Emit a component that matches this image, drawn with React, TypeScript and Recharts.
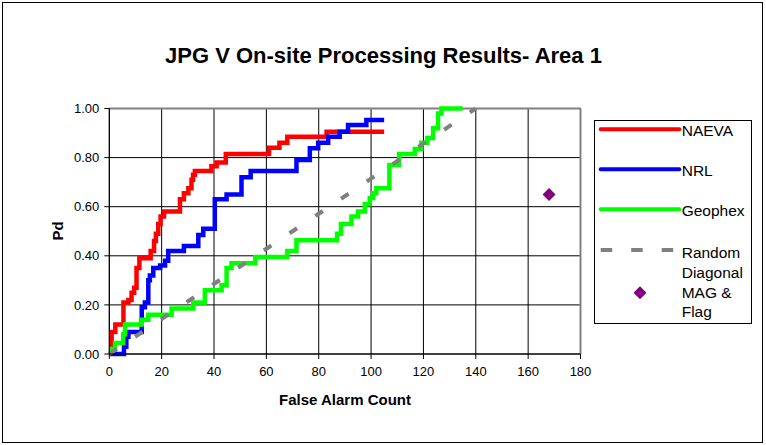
import React from "react";
import {
  ComposedChart,
  Line,
  Scatter,
  XAxis,
  YAxis,
  CartesianGrid,
  ReferenceLine,
} from "recharts";

// [false alarm count, Pd] — step points, the curve rises at each x
const naeva: [number, number][] = [
  [0, 0.03], [0.9, 0.09], [2.3, 0.12], [5.4, 0.21], [7.3, 0.22], [8.5, 0.25],
  [9.5, 0.27], [10.4, 0.35], [11.5, 0.39], [15.8, 0.42], [17.1, 0.46],
  [17.8, 0.49], [18.7, 0.53], [19.6, 0.56], [20.9, 0.58], [27, 0.63],
  [28.5, 0.655], [30.2, 0.675], [31.4, 0.71], [32, 0.73], [32.7, 0.745],
  [39, 0.765], [41, 0.78], [44.5, 0.815], [61, 0.84], [65, 0.86], [68, 0.885],
  [83, 0.905], [105, 0.905],
];

const nrl: [number, number][] = [
  [0, 0], [5.6, 0.03], [6.5, 0.07], [7.3, 0.09], [12.4, 0.19], [13.6, 0.21],
  [14.9, 0.3], [15.5, 0.32], [16.8, 0.35], [19.4, 0.36], [21.3, 0.38],
  [22.5, 0.42], [28.5, 0.44], [34, 0.485], [35.9, 0.51], [40.3, 0.63],
  [44.8, 0.65], [50.5, 0.72], [54, 0.745], [71.5, 0.79], [76.6, 0.838],
  [79.8, 0.861], [83.6, 0.885], [88, 0.905], [91.2, 0.933], [98.2, 0.953],
  [105, 0.953],
];

const geophex: [number, number][] = [
  [0, 0.02], [2.2, 0.045], [5.3, 0.08], [6, 0.12], [12.4, 0.14], [14.9, 0.16],
  [23.8, 0.185], [32.1, 0.21], [36.5, 0.26], [42.9, 0.28], [44.8, 0.35],
  [46.7, 0.37], [55.8, 0.395], [68, 0.42], [71.5, 0.463], [87, 0.49],
  [88.5, 0.53], [92.5, 0.56], [95, 0.58], [97.6, 0.61], [99.5, 0.635],
  [100.8, 0.655], [102, 0.675], [107, 0.77], [110.7, 0.815], [116.7, 0.835],
  [119.2, 0.86], [121.5, 0.88], [123.7, 0.92], [125.6, 0.98], [126.9, 1.0],
  [135, 1.0],
];

const randomDiagonal: [number, number][] = [[0, 0], [140, 1]];
const magFlag: [number, number][] = [[168, 0.65]];

const xTicks = [0, 20, 40, 60, 80, 100, 120, 140, 160, 180];
const yTicks = [0, 0.2, 0.4, 0.6, 0.8, 1];

const toPts = (a: [number, number][]) => a.map(([x, y]) => ({ x, y }));

const FONT = "'Liberation Sans', Arial, sans-serif";

const Diamond = (p: any) => {
  const { cx, cy } = p;
  const r = 6.5;
  return (
    <polygon
      points={`${cx},${cy - r} ${cx + r},${cy} ${cx},${cy + r} ${cx - r},${cy}`}
      fill="#800080"
    />
  );
};

export default function App() {
  const tick = { fill: "#000", fontSize: 13, fontFamily: FONT };
  return (
    <div
      style={{
        position: "absolute",
        left: 0,
        top: 0,
        width: 766,
        height: 445,
        background: "#fff",
        fontFamily: FONT,
      }}
    >
      <div
        style={{
          position: "absolute",
          left: 2,
          top: 2,
          width: 759,
          height: 439,
          border: "1px solid #000",
        }}
      />
      <ComposedChart
        width={766}
        height={445}
        margin={{ top: 108.5, right: 185.5, bottom: 61, left: 49.3 }}
      >
        <CartesianGrid stroke="#000" strokeWidth={1} />
        <XAxis
          dataKey="x"
          type="number"
          domain={[0, 180]}
          ticks={xTicks}
          interval={0}
          height={30}
          tickSize={5}
          tickMargin={8}
          tick={tick}
          axisLine={{ stroke: "#000" }}
          tickLine={{ stroke: "#000" }}
        />
        <YAxis
          dataKey="y"
          type="number"
          domain={[0, 1]}
          ticks={yTicks}
          interval={0}
          width={60}
          tickSize={5}
          tickMargin={5}
          tick={tick}
          tickFormatter={(v: number) => v.toFixed(2)}
          axisLine={{ stroke: "#000" }}
          tickLine={{ stroke: "#000" }}
        />
        <ReferenceLine y={1} stroke="#808080" strokeWidth={2} />
        <ReferenceLine x={180} stroke="#808080" strokeWidth={2} />
        <Line
          data={toPts(naeva)}
          dataKey="y"
          type="stepAfter"
          stroke="#ff0000"
          strokeWidth={4.5}
          dot={false}
          activeDot={false}
          isAnimationActive={false}
        />
        <Line
          data={toPts(nrl)}
          dataKey="y"
          type="stepAfter"
          stroke="#0000ff"
          strokeWidth={4.5}
          dot={false}
          activeDot={false}
          isAnimationActive={false}
        />
        <Line
          data={toPts(geophex)}
          dataKey="y"
          type="stepAfter"
          stroke="#00ff00"
          strokeWidth={4.5}
          dot={false}
          activeDot={false}
          isAnimationActive={false}
        />
        <Line
          data={toPts(randomDiagonal)}
          dataKey="y"
          type="linear"
          stroke="#808080"
          strokeWidth={4}
          strokeDasharray="9 22"
          dot={false}
          activeDot={false}
          isAnimationActive={false}
        />
        <Scatter
          data={toPts(magFlag)}
          dataKey="y"
          shape={Diamond}
          fill="#800080"
          isAnimationActive={false}
        />
      </ComposedChart>
      <svg
        width={766}
        height={445}
        style={{ position: "absolute", left: 0, top: 0, pointerEvents: "none" }}
        fontFamily={FONT}
      >
        <text x={383.5} y={63.3} textAnchor="middle" fontSize={22} fontWeight="bold">
          JPG V On-site Processing Results- Area 1
        </text>
        <text
          x={63}
          y={231}
          textAnchor="middle"
          fontSize={15}
          fontWeight="bold"
          transform="rotate(-90 63 231)"
        >
          Pd
        </text>
        <text x={345} y={405} textAnchor="middle" fontSize={15} fontWeight="bold">
          False Alarm Count
        </text>

        <rect x={594.5} y={120.5} width={157} height={203} fill="#fff" stroke="#000" />
        <line x1={600.7} y1={129.3} x2={679.3} y2={129.3} stroke="#ff0000" strokeWidth={4} strokeLinecap="round" />
        <line x1={600.7} y1={169.3} x2={679.3} y2={169.3} stroke="#0000ff" strokeWidth={4} strokeLinecap="round" />
        <line x1={600.7} y1={209.3} x2={679.3} y2={209.3} stroke="#00ff00" strokeWidth={4} strokeLinecap="round" />
        <line x1={600.7} y1={250} x2={679.3} y2={250} stroke="#808080" strokeWidth={4} strokeDasharray="11.5 19" />
        <Diamond cx={640} cy={292.7} />
        <g fontSize={15.5} fill="#000">
          <text x={681.7} y={136.3}>NAEVA</text>
          <text x={681.7} y={176.3}>NRL</text>
          <text x={681.7} y={216.3}>Geophex</text>
          <text x={681.7} y={257.6}>Random</text>
          <text x={681.7} y={277.9}>Diagonal</text>
          <text x={681.7} y={298.3}>MAG &amp;</text>
          <text x={681.7} y={317.3}>Flag</text>
        </g>
      </svg>
    </div>
  );
}
